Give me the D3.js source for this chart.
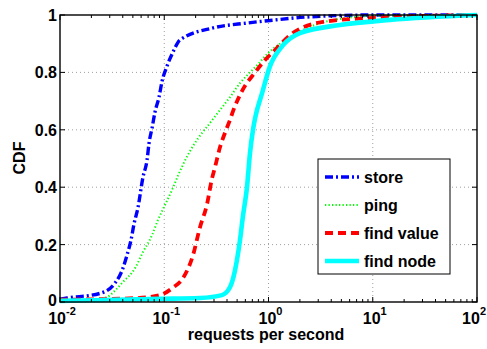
<!DOCTYPE html>
<html lang="en">
<head>
<meta charset="UTF-8">
<title>CDF</title>
<script src="https://d3js.org/d3.v7.min.js"></script>
<style>
  body { margin: 0; background: #fff; }
  text { font-family: "Liberation Sans", Arial, sans-serif; font-weight: bold; }
</style>
</head>
<body>
<svg id="chart" width="487" height="349"></svg>
<script>
// data (requests per second, cdf)
const storeX = [0.01, 0.0117, 0.0242, 0.0337, 0.0394, 0.044, 0.048, 0.0513, 0.0559, 0.0625, 0.0684, 0.0715, 0.0764, 0.0815, 0.0891, 0.095, 0.1063, 0.121, 0.1416, 0.294, 0.622, 1.1, 2.34, 10, 100];
const storeY = [0.01, 0.014, 0.03, 0.066, 0.11, 0.164, 0.216, 0.272, 0.328, 0.435, 0.495, 0.554, 0.606, 0.662, 0.714, 0.767, 0.822, 0.87, 0.913, 0.955, 0.972, 0.982, 0.993, 1.0, 1.0];

const pingX = [0.01, 0.02, 0.0282, 0.0337, 0.0402, 0.0525, 0.0625, 0.0764, 0.0871, 0.1016, 0.1186, 0.1355, 0.17, 0.211, 0.275, 0.343, 0.428, 0.533, 0.665, 0.828, 0.989, 1.29, 3.89, 11.7, 100];
const pingY = [0.004, 0.008, 0.017, 0.04, 0.07, 0.118, 0.174, 0.233, 0.286, 0.338, 0.39, 0.44, 0.515, 0.57, 0.624, 0.669, 0.714, 0.763, 0.80, 0.836, 0.867, 0.90, 0.98, 0.998, 1.0];

const findValueX = [0.01, 0.0501, 0.091, 0.121, 0.151, 0.189, 0.22, 0.257, 0.287, 0.307, 0.343, 0.383, 0.428, 0.457, 0.557, 0.743, 0.927, 1.155, 1.61, 3.33, 10, 100];
const findValueY = [0.008, 0.013, 0.024, 0.05, 0.083, 0.164, 0.26, 0.34, 0.43, 0.47, 0.54, 0.59, 0.635, 0.665, 0.735, 0.80, 0.843, 0.878, 0.93, 0.976, 0.99, 1.0];

const findNodeX = [0.01, 0.091, 0.22, 0.358, 0.428, 0.477, 0.533, 0.569, 0.622, 0.665, 0.71, 0.743, 0.868, 1.03, 1.38, 2.0, 4.85, 14.6, 100];
const findNodeY = [0.004, 0.011, 0.014, 0.024, 0.052, 0.11, 0.216, 0.30, 0.40, 0.52, 0.60, 0.64, 0.728, 0.82, 0.895, 0.937, 0.965, 0.983, 1.0];

const seriesNames = ["store", "ping", "find value", "find node"];
const xTickExp = [-2, -1, 0, 1, 2];
const yTicks = [0, 0.2, 0.4, 0.6, 0.8, 1];

const styles = [
  { color: "#0000ff", width: 3.4, dash: "8,3,2,3" },
  { color: "#00ff00", width: 2, dash: "1.3,2.2" },
  { color: "#ff0000", width: 3.8, dash: "8,5" },
  { color: "#00ffff", width: 4.6, dash: null }
];

const series = [
  d3.zip(storeX, storeY),
  d3.zip(pingX, pingY),
  d3.zip(findValueX, findValueY),
  d3.zip(findNodeX, findNodeY)
];

const svg = d3.select("#chart");
const mLeft = 60, mRight = 477, mTop = 15, mBottom = 302;

const x = d3.scaleLog().domain([0.01, 100]).range([mLeft, mRight]);
const y = d3.scaleLinear().domain([0, 1]).range([mBottom, mTop]);

// grid
const grid = svg.append("g").attr("stroke", "#888").attr("stroke-width", 0.8).attr("stroke-dasharray", "1,3");
xTickExp.slice(1, -1).forEach(e => {
  grid.append("line").attr("x1", x(Math.pow(10, e))).attr("x2", x(Math.pow(10, e)))
    .attr("y1", mTop).attr("y2", mBottom);
});
yTicks.slice(1, -1).forEach(v => {
  grid.append("line").attr("x1", mLeft).attr("x2", mRight).attr("y1", y(v)).attr("y2", y(v));
});

// lines
const line = d3.line().x(d => x(d[0])).y(d => y(d[1])).curve(d3.curveMonotoneX);
const plot = svg.append("g");
series.forEach((s, i) => {
  plot.append("path")
    .datum(s)
    .attr("fill", "none")
    .attr("stroke", styles[i].color)
    .attr("stroke-width", styles[i].width)
    .attr("stroke-dasharray", styles[i].dash)
    .attr("d", line);
});

// axes box + ticks (inward, MATLAB style)
svg.append("rect").attr("x", mLeft).attr("y", mTop).attr("width", mRight - mLeft).attr("height", mBottom - mTop)
  .attr("fill", "none").attr("stroke", "#000").attr("stroke-width", 1.4);

const ticks = svg.append("g").attr("stroke", "#000").attr("stroke-width", 1);
xTickExp.forEach((e, k) => {
  const base = Math.pow(10, e);
  const px = x(base);
  ticks.append("line").attr("x1", px).attr("x2", px).attr("y1", mBottom).attr("y2", mBottom - 5);
  ticks.append("line").attr("x1", px).attr("x2", px).attr("y1", mTop).attr("y2", mTop + 5);
  if (k < xTickExp.length - 1) {
    for (let m = 2; m <= 9; m++) {
      const pm = x(base * m);
      ticks.append("line").attr("x1", pm).attr("x2", pm).attr("y1", mBottom).attr("y2", mBottom - 3);
      ticks.append("line").attr("x1", pm).attr("x2", pm).attr("y1", mTop).attr("y2", mTop + 3);
    }
  }
});
yTicks.forEach(v => {
  ticks.append("line").attr("x1", mLeft).attr("x2", mLeft + 5).attr("y1", y(v)).attr("y2", y(v));
  ticks.append("line").attr("x1", mRight).attr("x2", mRight - 5).attr("y1", y(v)).attr("y2", y(v));
});

// tick labels
xTickExp.forEach((e, k) => {
  const last = k === xTickExp.length - 1;
  const t = svg.append("text")
    .attr("x", last ? 486 : x(Math.pow(10, e)) + 2).attr("y", 324)
    .attr("text-anchor", last ? "end" : "middle").attr("font-size", 16);
  t.append("tspan").text("10");
  t.append("tspan").attr("dy", -9).attr("font-size", 11).text(e);
});
yTicks.forEach(v => {
  svg.append("text").attr("x", 57).attr("y", y(v) + (v === 0 ? 4 : 6)).attr("text-anchor", "end")
    .attr("font-size", 16).text(v === 0 || v === 1 ? String(v) : v.toFixed(1));
});

// axis labels
svg.append("text").attr("x", 266).attr("y", 340).attr("text-anchor", "middle")
  .attr("font-size", 16).text("requests per second");
svg.append("text").attr("transform", "translate(25,158) rotate(-90)").attr("text-anchor", "middle")
  .attr("font-size", 16).text("CDF");

// legend
const lg = svg.append("g");
lg.append("rect").attr("x", 318).attr("y", 159).attr("width", 132).attr("height", 115)
  .attr("fill", "#fff").attr("stroke", "#000").attr("stroke-width", 1);
const rowY = [177, 205, 233, 261];
seriesNames.forEach((name, i) => {
  lg.append("line").attr("x1", 325).attr("x2", 359).attr("y1", rowY[i]).attr("y2", rowY[i])
    .attr("stroke", styles[i].color).attr("stroke-width", styles[i].width)
    .attr("stroke-dasharray", styles[i].dash);
  lg.append("text").attr("x", 364).attr("y", rowY[i] + 6).attr("font-size", 16).text(name);
});
</script>
</body>
</html>
